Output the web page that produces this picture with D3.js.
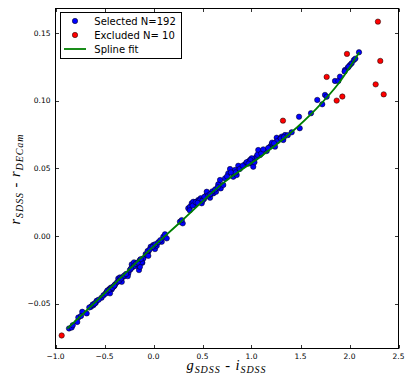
<!DOCTYPE html>
<html>
<head>
<meta charset="utf-8">
<script src="https://cdn.jsdelivr.net/npm/d3@7"></script>
<style>
  body { margin: 0; background: #fff; }
  svg { display: block; }
  .tick-label { font-family: "DejaVu Sans", sans-serif; font-size: 7.5px; fill: #000; }
  .legend-text { font-family: "DejaVu Sans", sans-serif; font-size: 10px; fill: #000; }
  .axis-label { font-family: "Liberation Serif", serif; font-style: italic; fill: #000; }
</style>
</head>
<body>
<div id="chart"></div>
<script>
// g_SDSS - i_SDSS vs r_SDSS - r_DECam
const selected = [
  [-0.862,-0.0682],[-0.835,-0.0675],[-0.767,-0.0601],[-0.727,-0.0559],[-0.682,-0.0571],
  [-0.638,-0.0522],[-0.614,-0.0510],[-0.590,-0.0493],[-0.580,-0.0478],[-0.478,-0.0412],
  [-0.461,-0.0399],[-0.444,-0.0386],[-0.427,-0.0394],[-0.410,-0.0375],[-0.444,-0.0423],
  [-0.400,-0.0369],[-0.359,-0.0313],[-0.342,-0.0305],[-0.324,-0.0338],[-0.308,-0.0301],
  [-0.281,-0.0288],[-0.257,-0.0276],[-0.263,-0.0296],[-0.216,-0.0231],[-0.196,-0.0214],
  [-0.171,-0.0207],[-0.148,-0.0251],[-0.114,-0.0197],[-0.138,-0.0177],[-0.104,-0.0165],
  [-0.080,-0.0133],[-0.053,-0.0116],[-0.222,-0.0209],[-0.199,-0.0194],[-0.171,-0.0219],
  [-0.155,-0.0202],[-0.120,-0.0194],[-0.138,-0.0227],[-0.069,-0.0140],[-0.053,-0.0146],
  [-0.029,-0.0079],[-0.002,-0.0066],[0.015,-0.0096],[0.033,-0.0072],[0.084,-0.0042],
  [0.100,-0.0005],[0.117,0.0013],[0.135,-0.0017],[0.270,0.0106],[0.298,0.0094],
  [0.288,0.0118],[0.355,0.0205],[0.372,0.0216],[0.390,0.0242],[0.406,0.0253],
  [0.423,0.0229],[0.441,0.0253],[0.457,0.0266],[0.482,0.0279],[0.492,0.0242],
  [0.515,0.0273],[0.536,0.0298],[0.543,0.0327],[0.577,0.0283],[0.594,0.0315],
  [0.610,0.0315],[0.638,0.0327],[0.661,0.0382],[0.679,0.0414],[0.686,0.0352],
  [0.712,0.0377],[0.730,0.0426],[0.763,0.0463],[0.781,0.0495],[0.814,0.0438],
  [0.849,0.0451],[0.865,0.0519],[0.832,0.0488],[0.934,0.0530],[0.967,0.0549],
  [0.985,0.0562],[1.002,0.0537],[1.018,0.0512],[1.036,0.0574],[1.053,0.0586],
  [1.069,0.0635],[1.087,0.0598],[1.002,0.0574],[1.155,0.0628],[1.189,0.0660],
  [1.206,0.0678],[1.222,0.0672],[1.240,0.0660],[1.257,0.0726],[1.291,0.0717],
  [1.308,0.0734],[1.342,0.0746],[1.324,0.0709],[1.410,0.0766],[1.485,0.0881],
  [1.492,0.0796],[1.607,0.0907],[1.671,0.1005],[1.722,0.0973],[1.750,0.1042],
  [1.767,0.1029],[1.852,0.1145],[1.886,0.1145],[1.903,0.1177],[1.954,0.1226],
  [1.982,0.1243],[2.005,0.1263],[2.022,0.1276],[2.097,0.1357],[2.045,0.1300],
  [-0.53,-0.0455],[-0.51,-0.0437],[-0.49,-0.0425],[-0.47,-0.0402],[-0.45,-0.0395],
  [-0.43,-0.0379],[-0.39,-0.0356],[-0.37,-0.0340],[-0.35,-0.0330],[-0.33,-0.0313],
  [-0.30,-0.0292],[-0.28,-0.0280],[-0.24,-0.0250],[-0.20,-0.0222],[-0.18,-0.0205],
  [-0.16,-0.0195],[-0.13,-0.0170],[-0.778,-0.0634],[-0.824,-0.0658],[-0.655,-0.0527],
  [-0.740,-0.0590],[0.37,0.0190],[0.40,0.0225],[0.43,0.0250],[0.47,0.0262],
  [0.50,0.0262],[0.52,0.0290],[0.56,0.0300],[0.60,0.0330],[0.63,0.0345],
  [0.655,0.0360],[0.79,0.0470],[0.84,0.0470],[0.88,0.0495],[0.91,0.0520],
  [0.95,0.0545],[0.99,0.0560],[1.03,0.0545],[1.06,0.0600],[1.10,0.0610],
  [1.12,0.0640],[1.17,0.0650],[1.21,0.0690],[1.26,0.0700],[1.30,0.0720],
  [1.33,0.0730],[1.37,0.0745],[-0.06,-0.0110],[-0.04,-0.0100],[-0.01,-0.0080],
  [0.02,-0.0060],[0.05,-0.0045],[0.07,-0.0030],[-0.62,-0.0505],[-0.60,-0.0498],
  [-0.56,-0.0470],[-0.42,-0.0382],[-0.40,-0.0365],[-0.23,-0.0240],[0.45,0.0245],
  [0.58,0.0310],[0.75,0.0440],[0.97,0.0535],[1.23,0.0685],[1.95,0.1215],
  [1.99,0.1250],[2.06,0.1310]
];

const excluded = [
  [-0.937,-0.0734],[2.290,0.1583],[2.314,0.1293],[2.267,0.1120],[2.349,0.1046],
  [1.974,0.1345],[1.767,0.1175],[1.869,0.1000],[1.927,0.1030],[1.321,0.0852]
];

const splineX = [-0.88, -0.50, -0.09, 0.27, 0.70, 1.14, 1.41, 1.65, 1.89, 2.10];
const splineY = [-0.0683, -0.0424, -0.0137, 0.0100, 0.0385, 0.0612, 0.0768, 0.0932, 0.1128, 0.1357];

const xTicks = [-1.0, -0.5, 0.0, 0.5, 1.0, 1.5, 2.0, 2.5];
const yTicks = [-0.05, 0.00, 0.05, 0.10, 0.15];

const legendItems = [
  { label: "Selected N=192", kind: "dot", color: "#0000ff" },
  { label: "Excluded N= 10", kind: "dot", color: "#ff0000" },
  { label: "Spline fit", kind: "line", color: "#008000" }
];

const width = 415, height = 388;
const plotLeft = 55.5, plotRight = 398.5, plotTop = 8.5, plotBottom = 348.5;

const svg = d3.select("#chart").append("svg")
  .attr("width", width)
  .attr("height", height);

const x = d3.scaleLinear().domain([-1, 2.5]).range([plotLeft, plotRight]);
const y = d3.scaleLinear().domain([-0.083, 0.168]).range([plotBottom, plotTop]);

const fmtMinus = s => s.replace("-", "\u2212");

// points
svg.append("g").selectAll("circle")
  .data(selected)
  .enter().append("circle")
  .attr("cx", d => x(d[0]))
  .attr("cy", d => y(d[1]))
  .attr("r", 2.7)
  .attr("fill", "#0000ff")
  .attr("stroke", "#000")
  .attr("stroke-width", 0.5);

svg.append("g").selectAll("circle")
  .data(excluded)
  .enter().append("circle")
  .attr("cx", d => x(d[0]))
  .attr("cy", d => y(d[1]))
  .attr("r", 2.7)
  .attr("fill", "#ff0000")
  .attr("stroke", "#000")
  .attr("stroke-width", 0.5);

// spline
const line = d3.line()
  .x(i => x(splineX[i]))
  .y(i => y(splineY[i]))
  .curve(d3.curveMonotoneX);

svg.append("path")
  .attr("d", line(d3.range(splineX.length)))
  .attr("fill", "none")
  .attr("stroke", "#008000")
  .attr("stroke-width", 1.8);

// frame
svg.append("rect")
  .attr("x", plotLeft).attr("y", plotTop)
  .attr("width", plotRight - plotLeft).attr("height", plotBottom - plotTop)
  .attr("fill", "none")
  .attr("stroke", "#000")
  .attr("stroke-width", 1);

// ticks inward on all sides
const tl = 3.5;
const ticks = svg.append("g").attr("stroke", "#000").attr("stroke-width", 0.8);
xTicks.forEach(t => {
  const px = Math.round(x(t)) + 0.5;
  ticks.append("line").attr("x1", px).attr("x2", px).attr("y1", plotBottom).attr("y2", plotBottom - tl);
  ticks.append("line").attr("x1", px).attr("x2", px).attr("y1", plotTop).attr("y2", plotTop + tl);
});
yTicks.forEach(t => {
  const py = Math.round(y(t)) + 0.5;
  ticks.append("line").attr("x1", plotLeft).attr("x2", plotLeft + tl).attr("y1", py).attr("y2", py);
  ticks.append("line").attr("x1", plotRight).attr("x2", plotRight - tl).attr("y1", py).attr("y2", py);
});

svg.append("g").selectAll("text")
  .data(xTicks)
  .enter().append("text")
  .attr("class", "tick-label")
  .attr("x", d => x(d))
  .attr("y", plotBottom + 10)
  .attr("text-anchor", "middle")
  .text(d => fmtMinus(d3.format(".1f")(d)));

svg.append("g").selectAll("text")
  .data(yTicks)
  .enter().append("text")
  .attr("class", "tick-label")
  .attr("x", plotLeft - 5)
  .attr("y", d => y(d) + 2.7)
  .attr("text-anchor", "end")
  .text(d => fmtMinus(d3.format(".2f")(d)));

// axis labels with subscripts
function mathLabel(sel, parts) {
  parts.forEach(p => {
    sel.append("tspan")
      .attr("font-size", p.sub ? 10 : 14.5)
      .attr("dy", p.dy || 0)
      .attr("font-style", p.upright ? "normal" : "italic")
      .text(p.t);
  });
}

const xl = svg.append("text")
  .attr("class", "axis-label")
  .attr("x", (plotLeft + plotRight) / 2 - 1)
  .attr("y", 370)
  .attr("text-anchor", "middle")
  .attr("textLength", 79)
  .attr("lengthAdjust", "spacing");
mathLabel(xl, [
  { t: "g" }, { t: "SDSS", sub: true, dy: 3 },
  { t: " - ", upright: true, dy: -3 },
  { t: "i" }, { t: "SDSS", sub: true, dy: 3 }
]);

const yl = svg.append("text")
  .attr("class", "axis-label")
  .attr("transform", `translate(20,${(plotTop + plotBottom) / 2 + 1}) rotate(-90)`)
  .attr("text-anchor", "middle")
  .attr("textLength", 90)
  .attr("lengthAdjust", "spacing");
mathLabel(yl, [
  { t: "r" }, { t: "SDSS", sub: true, dy: 3 },
  { t: " - ", upright: true, dy: -3 },
  { t: "r" }, { t: "DECam", sub: true, dy: 3 }
]);

// legend
const lg = svg.append("g");
lg.append("rect")
  .attr("x", 60.5).attr("y", 12.5)
  .attr("width", 121).attr("height", 46)
  .attr("fill", "#fff")
  .attr("stroke", "#000")
  .attr("stroke-width", 1);

legendItems.forEach((d, i) => {
  const cy = 21 + i * 14;
  if (d.kind === "dot") {
    lg.append("circle")
      .attr("cx", 75).attr("cy", cy).attr("r", 2.7)
      .attr("fill", d.color).attr("stroke", "#000").attr("stroke-width", 0.5);
  } else {
    lg.append("line")
      .attr("x1", 64).attr("x2", 86).attr("y1", cy).attr("y2", cy)
      .attr("stroke", d.color).attr("stroke-width", 1.8);
  }
  lg.append("text")
    .attr("class", "legend-text")
    .attr("x", 94.3)
    .attr("y", cy + 3.6)
    .text(d.label);
});
</script>
</body>
</html>
